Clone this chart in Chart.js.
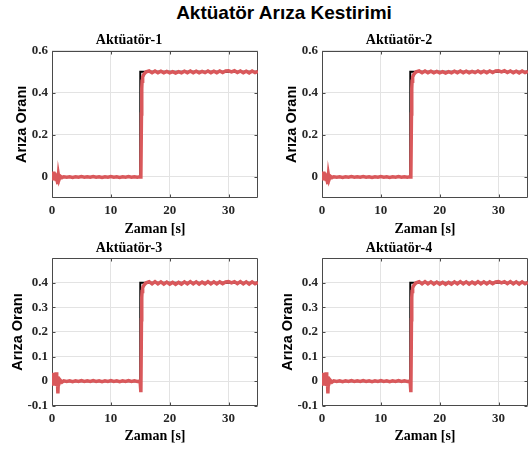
<!DOCTYPE html>
<html>
<head>
<meta charset="utf-8">
<script src="https://cdn.jsdelivr.net/npm/chart.js@4.4.1/dist/chart.umd.min.js"></script>
<style>
  body { margin: 0; width: 529px; height: 449px; overflow: hidden; background: #fff; position: relative; }
  canvas { position: absolute; }
  #title { position: absolute; left: 84px; top: 2px; width: 400px; text-align: center;
    font: bold 19px "Liberation Sans", Arial, sans-serif; line-height: 22px; color: #000; }
</style>
</head>
<body>
<div id="title">Aktüatör Arıza Kestirimi</div>
<canvas id="c1" width="264" height="212" style="left:0;top:28px"></canvas>
<canvas id="c2" width="259" height="212" style="left:270px;top:28px"></canvas>
<canvas id="c3" width="264" height="209" style="left:0;top:240px"></canvas>
<canvas id="c4" width="259" height="209" style="left:270px;top:240px"></canvas>
<script>
// time samples of the estimate
var tEst = [0, 0.1, 0.2, 0.3, 0.4, 0.5, 0.6, 0.7, 0.8, 0.9, 1.0, 1.1, 1.2, 1.4, 1.7,
  2, 2.5, 3, 3.5, 4, 4.5, 5, 5.5, 6, 6.5, 7, 7.5, 8, 8.5, 9, 9.5, 10, 10.5, 11, 11.5,
  12, 12.5, 13, 13.5, 14, 14.5,
  14.9, 15, 15.1, 15.2, 15.25, 15.3, 15.4, 15.6, 15.8, 16,
  16.5, 17, 17.5, 18, 18.5, 19, 19.5, 20, 20.5, 21, 21.5, 22, 22.5, 23, 23.5, 24, 24.5,
  25, 25.5, 26, 26.5, 27, 27.5, 28, 28.5, 29, 29.5, 30, 30.5, 31, 31.5, 32, 32.5, 33,
  33.5, 34, 34.5, 35];

// actuators 1 & 2 (they look the same in the picture)
var est1 = [0.018, -0.012, 0.026, -0.016, 0.02, -0.014, 0.015, -0.012, 0.01, -0.02, -0.034, 0.006, -0.012, 0.004, -0.003,
  0.001, -0.001, 0.001, -0.002, 0.001, -0.001, 0.002, -0.001, 0.001, -0.001, 0.002, -0.001, 0.001, -0.002, 0.001,
  -0.001, 0.002, -0.001, 0.001, -0.002, 0.001, -0.001, 0.002, -0.001, 0.001, -0.001,
  0.001, 0.0, 0.005, 0.3, 0.42, 0.455, 0.475, 0.488, 0.495, 0.5,
  0.504, 0.496, 0.504, 0.496, 0.503, 0.495, 0.502, 0.495, 0.501, 0.494, 0.501, 0.495, 0.503, 0.496, 0.504, 0.496, 0.503,
  0.495, 0.502, 0.496, 0.504, 0.496, 0.503, 0.496, 0.504, 0.497, 0.504, 0.505, 0.5, 0.505, 0.497, 0.504, 0.496, 0.503,
  0.495, 0.504, 0.496, 0.502];
var est2 = est1;

// actuators 3 & 4
var est3 = [0.01, 0.03, -0.012, 0.034, -0.01, 0.028, -0.015, 0.036, -0.02, 0.02, -0.05, 0.015, -0.01, 0.004, -0.004,
  0.001, -0.001, 0.001, -0.002, 0.001, -0.001, 0.002, -0.001, 0.001, -0.001, 0.002, -0.001, 0.001, -0.002, 0.001,
  -0.001, 0.002, -0.001, 0.001, -0.002, 0.001, -0.001, 0.002, -0.001, 0.001, -0.001,
  0.0, -0.01, -0.045, 0.25, 0.34, 0.365, 0.38, 0.39, 0.396, 0.4,
  0.405, 0.396, 0.405, 0.396, 0.404, 0.395, 0.403, 0.395, 0.402, 0.394, 0.402, 0.395, 0.404, 0.396, 0.405, 0.396, 0.404,
  0.395, 0.403, 0.396, 0.405, 0.396, 0.404, 0.396, 0.404, 0.397, 0.404, 0.405, 0.4, 0.405, 0.397, 0.405, 0.396, 0.404,
  0.395, 0.404, 0.396, 0.402];
var est4 = est3;

// true fault (step at t = 15 s)
var refTime = [0, 15, 15, 35];
var ref12 = [0, 0, 0.5, 0.5];
var ref34 = [0, 0, 0.4, 0.4];

var titles = ["Aktüatör-1", "Aktüatör-2", "Aktüatör-3", "Aktüatör-4"];
var xTicks = [0, 10, 20, 30];
var yTicksTop = [0, 0.2, 0.4, 0.6];
var yTicksBottom = [-0.1, 0, 0.1, 0.2, 0.3, 0.4];

var serif = '"Liberation Serif", "Times New Roman", serif';
var sans = '"Liberation Sans", Arial, sans-serif';
var axisColor = "#4a4a4a";

function pts(xs, ys) {
  return xs.map(function (x, i) { return { x: x, y: ys[i] }; });
}

// matlab style box with ticks pointing inwards
var boxTicks = {
  id: "boxTicks",
  beforeDatasetsDraw: function (chart) {
    var ctx = chart.ctx, a = chart.chartArea, sx = chart.scales.x, sy = chart.scales.y;
    var l = Math.round(a.left) + 0.5, r = Math.round(a.right) - 0.5;
    var t = Math.round(a.top) + 0.5, b = Math.round(a.bottom) - 0.5;
    ctx.save();
    ctx.strokeStyle = axisColor;
    ctx.lineWidth = 1;
    ctx.beginPath();
    ctx.rect(l, t, r - l, b - t);
    sx.ticks.forEach(function (tk) {
      var p = Math.round(sx.getPixelForValue(tk.value)) + 0.5;
      ctx.moveTo(p, b); ctx.lineTo(p, b - 3);
      ctx.moveTo(p, t); ctx.lineTo(p, t + 3);
    });
    sy.ticks.forEach(function (tk) {
      var p = Math.round(sy.getPixelForValue(tk.value)) + 0.5;
      ctx.moveTo(l, p); ctx.lineTo(l + 3, p);
      ctx.moveTo(r, p); ctx.lineTo(r - 3, p);
    });
    ctx.stroke();
    ctx.restore();
  }
};

function makeChart(id, i) {
  var top = i < 2;
  var right = i % 2 === 1;
  var est = [est1, est2, est3, est4][i];
  var ref = top ? ref12 : ref34;
  var yTicks = top ? yTicksTop : yTicksBottom;

  new Chart(document.getElementById(id), {
    type: "line",
    data: {
      datasets: [
        {
          data: pts(tEst, est),
          borderColor: "#d9585b",
          borderWidth: 3.5,
          pointRadius: 0,
          tension: 0,
        },
        {
          data: pts(refTime, ref),
          borderColor: "#000000",
          borderWidth: 2,
          pointRadius: 0,
          tension: 0,
        },
      ],
    },
    options: {
      responsive: false,
      animation: false,
      layout: { padding: { left: 0, right: right ? 1 : 6, top: 0, bottom: 0 } },
      plugins: {
        legend: { display: false },
        tooltip: { enabled: false },
        title: {
          display: true,
          text: titles[i],
          color: "#000",
          font: { family: serif, size: 14, weight: "bold" },
          padding: top ? { top: 4, bottom: 2 } : { top: 0, bottom: 1.5 },
        },
      },
      scales: {
        x: {
          type: "linear",
          min: 0,
          max: 35,
          afterBuildTicks: function (s) { s.ticks = xTicks.map(function (v) { return { value: v }; }); },
          afterFit: function (s) { s.height = top ? 42 : 43.3; },
          grid: { color: "#e3e3e3", drawTicks: false },
          border: { display: false },
          ticks: {
            padding: 5,
            color: "#262626",
            font: { family: serif, size: 13, weight: "bold" },
            callback: function (v) { return String(v); },
          },
          title: {
            display: true,
            text: "Zaman [s]",
            color: "#000",
            font: { family: serif, size: 14, weight: "bold" },
            padding: top ? 2 : 4,
          },
        },
        y: {
          type: "linear",
          min: -0.1,
          max: top ? 0.6 : 0.5,
          afterBuildTicks: function (s) { s.ticks = yTicks.map(function (v) { return { value: v }; }); },
          afterFit: function (s) { s.width = 52; },
          grid: { color: "#e3e3e3", drawTicks: false },
          border: { display: false },
          ticks: {
            padding: 4,
            color: "#262626",
            font: { family: serif, size: 13, weight: "bold" },
            callback: function (v) { return String(v); },
          },
          title: {
            display: true,
            text: "Arıza Oranı",
            color: "#000",
            font: { family: sans, size: 14.5, weight: "bold" },
            padding: top ? 13.6 : 9,
          },
        },
      },
    },
    plugins: [boxTicks],
  });
}

makeChart("c1", 0);
makeChart("c2", 1);
makeChart("c3", 2);
makeChart("c4", 3);
</script>
</body>
</html>
